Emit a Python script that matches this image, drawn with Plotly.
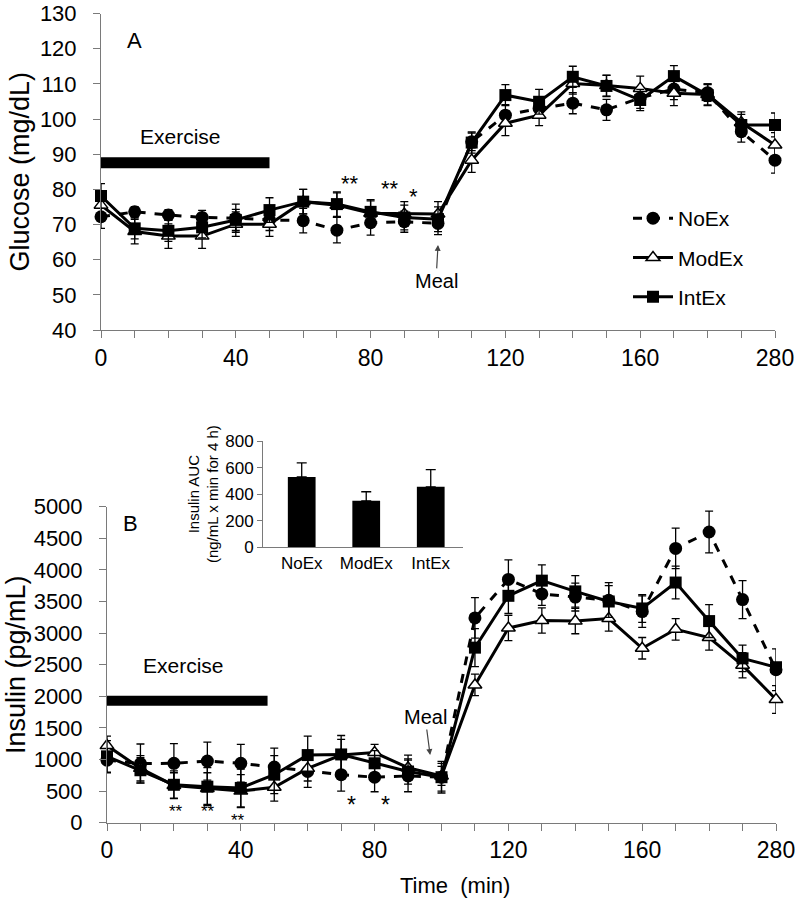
import plotly.graph_objects as go

# ---------------- data ----------------
times = ["0", "10", "20", "30", "40", "50", "60", "70", "80", "90", "100",
         "110", "120", "130", "140", "150", "160", "170", "180", "240", "280"]
tick_text = ["0", "", "", "", "40", "", "", "", "80", "", "", "", "120", "", "", "",
             "160", "", "", "", "280"]

glu_noex = [72.2, 73.6, 72.7, 72.0, 71.8, 71.3, 71.1, 68.4, 70.5, 70.8, 70.3,
            93.5, 101.1, 103.0, 104.5, 102.6, 106.0, 108.5, 107.5, 96.4, 88.3]
glu_noex_err = [3.3, 1.5, 1.5, 2.0, 4.0, 3.0, 3.5, 3.6, 3.5, 3.0, 3.2,
                2.5, 3.0, 2.5, 3.0, 3.0, 3.0, 3.0, 2.5, 3.0, 3.7]
glu_modex = [75.5, 68.0, 66.7, 66.7, 70.1, 70.1, 76.5, 75.5, 73.2, 73.0, 73.0,
             88.3, 98.8, 101.1, 110.1, 109.5, 108.7, 107.3, 107.0, 99.0, 92.6]
glu_modex_err = [4.0, 3.5, 3.5, 3.5, 3.5, 3.5, 3.5, 3.5, 3.5, 3.5, 3.5,
                 3.5, 3.5, 3.0, 3.0, 3.0, 3.5, 3.5, 3.0, 3.0, 3.5]
glu_intex = [78.1, 68.9, 68.2, 69.2, 71.3, 74.1, 76.5, 75.8, 73.6, 72.0, 71.5,
             93.3, 106.8, 104.9, 112.0, 109.4, 105.4, 112.2, 106.8, 98.3, 98.3]
glu_intex_err = [3.5, 3.0, 3.0, 3.0, 3.0, 3.5, 3.5, 3.5, 3.5, 3.5, 3.5,
                 3.0, 3.0, 3.5, 3.0, 3.0, 3.0, 3.0, 3.0, 3.0, 3.4]

ins_noex = [990, 935, 940, 975, 940, 880, 810, 760, 720, 740, 720,
            3240, 3850, 3620, 3570, 3520, 3340, 4340, 4600, 3530, 2420]
ins_noex_err = [200, 310, 310, 300, 300, 300, 250, 260, 230, 250, 250,
                320, 310, 180, 220, 280, 250, 320, 330, 300, 330]
ins_modex = [1220, 860, 590, 540, 500, 560, 860, 1070, 1110, 870, 740,
             2180, 3080, 3200, 3190, 3230, 2760, 3060, 2930, 2490, 1950]
ins_modex_err = [150, 200, 200, 250, 260, 220, 200, 250, 130, 200, 150,
                 170, 200, 200, 200, 200, 170, 170, 200, 200, 220]
ins_intex = [1050, 830, 600, 570, 550, 760, 1070, 1080, 940, 810, 720,
             2770, 3590, 3830, 3660, 3500, 3390, 3800, 3190, 2600, 2460]
ins_intex_err = [250, 200, 220, 300, 300, 300, 300, 300, 200, 200, 220,
                 300, 280, 250, 250, 250, 220, 260, 260, 210, 60]

auc_groups = ["NoEx", "ModEx", "IntEx"]
auc_values = [530, 350, 455]
auc_err = [105, 68, 130]

# ---------------- style ----------------
FONT = "Arial, 'Liberation Sans', sans-serif"
AX = "#7a7a7a"

series = [
    ("NoEx", dict(symbol="circle", size=13, color="black"), "dash"),
    ("ModEx", dict(symbol="triangle-up", size=12, color="white", line=dict(color="black", width=1.5)), "solid"),
    ("IntEx", dict(symbol="square", size=12, color="black"), "solid"),
]

fig = go.Figure()

glu = [(glu_noex, glu_noex_err), (glu_modex, glu_modex_err), (glu_intex, glu_intex_err)]
ins = [(ins_noex, ins_noex_err), (ins_modex, ins_modex_err), (ins_intex, ins_intex_err)]

for (name, mk, dash), (vals, err) in zip(series, glu):
    fig.add_trace(go.Scatter(
        x=times, y=vals, name=name, mode="lines+markers",
        line=dict(color="black", width=3, dash=dash),
        marker=mk, cliponaxis=False,
        error_y=dict(type="data", array=err, color="black", thickness=1.3, width=4),
        legendgroup=name, xaxis="x", yaxis="y"))

for (name, mk, dash), (vals, err) in zip(series, ins):
    fig.add_trace(go.Scatter(
        x=times, y=vals, name=name, mode="lines+markers", showlegend=False,
        line=dict(color="black", width=3, dash=dash),
        marker=mk, cliponaxis=False,
        error_y=dict(type="data", array=err, color="black", thickness=1.3, width=4),
        xaxis="x2", yaxis="y2"))

fig.add_trace(go.Bar(
    x=auc_groups, y=auc_values, width=0.43, marker=dict(color="black", line=dict(width=0)),
    error_y=dict(type="data", symmetric=False, array=auc_err,
                 arrayminus=[0, 0, 0], color="black", thickness=1.3, width=5),
    showlegend=False, xaxis="x3", yaxis="y3"))

xcommon = dict(type="category", range=[0, 20], tickvals=times, ticktext=tick_text,
               showline=True, linecolor=AX, linewidth=1, ticks="outside",
               ticklen=7, tickcolor=AX, showgrid=False, zeroline=False, automargin=False,
               tickfont=dict(size=23, color="black", family=FONT))
ycommon = dict(showline=True, linecolor=AX, linewidth=1, ticks="outside",
               ticklen=7, tickcolor=AX, showgrid=False, zeroline=False, automargin=False,
               tickfont=dict(size=22, color="black", family=FONT),
               ticklabelstandoff=12)

fig.update_layout(
    template="none",
    width=800, height=911, margin=dict(l=0, r=0, t=0, b=0, pad=0), autosize=False,
    paper_bgcolor="white", plot_bgcolor="white",
    font=dict(family=FONT, color="black"),
    xaxis=dict(domain=[101/800, 775/800], anchor="y", **xcommon),
    yaxis=dict(domain=[1-330/911, 1-13.5/911], anchor="x", range=[40, 130], dtick=10,
               title=dict(text="Glucose (mg/dL)", font=dict(size=27), standoff=2),
               **ycommon),
    xaxis2=dict(domain=[107/800, 776/800], anchor="y2", **xcommon),
    yaxis2=dict(domain=[1-822.7/911, 1-506.7/911], anchor="x2", range=[0, 5000], dtick=500,
                title=dict(text="Insulin (pg/mL)", font=dict(size=27), standoff=0),
                **ycommon),
    xaxis3=dict(domain=[263/800, 463/800], anchor="y3", type="category", range=[-0.6, 2.5],
                showline=True, linecolor=AX, ticks="", showgrid=False, automargin=False,
                tickfont=dict(size=17, color="black")),
    yaxis3=dict(domain=[1-547.3/911, 1-441/911], anchor="x3", range=[0, 800], dtick=200,
                showline=True, linecolor=AX, ticks="outside", ticklen=5, tickcolor=AX,
                showgrid=False, zeroline=False, automargin=False,
                tickfont=dict(size=17, color="black"),
                title=dict(text="Insulin AUC<br>(ng/mL x min for 4 h)", font=dict(size=15),
                           standoff=2)),
    legend=dict(x=628/800, y=1-198/911, xanchor="left", yanchor="top",
                bgcolor="rgba(0,0,0,0)", font=dict(size=21), tracegroupgap=9,
                itemwidth=40),
    showlegend=True,
)

# exercise bars
fig.add_shape(type="rect", xref="x", yref="y", x0=0, x1=5, y0=86.0, y1=89.1,
              fillcolor="black", line=dict(width=0))
fig.add_shape(type="rect", xref="x2", yref="y2", x0=0, x1=4.8, y0=1850, y1=2010,
              fillcolor="black", line=dict(width=0))

C = dict(xanchor="center", yanchor="middle")
ann = []
ann.append(dict(text="A", x=134/800, y=1-40/911, xref="paper", yref="paper",
                showarrow=False, font=dict(size=22), **C))
ann.append(dict(text="B", x=130/800, y=1-523/911, xref="paper", yref="paper",
                showarrow=False, font=dict(size=22), **C))
ann.append(dict(text="Exercise", x=180/800, y=1-137/911, xref="paper", yref="paper",
                showarrow=False, font=dict(size=21), **C))
ann.append(dict(text="Exercise", x=183/800, y=1-665/911, xref="paper", yref="paper",
                showarrow=False, font=dict(size=21), **C))
ann.append(dict(text="Meal", x=10, y=64.2, xref="x", yref="y", showarrow=True,
                ax=-2, ay=36, arrowhead=2, arrowsize=1, arrowwidth=1.2,
                font=dict(size=20)))
ann.append(dict(text="Meal", x=9.66, y=1071, xref="x2", yref="y2", showarrow=True,
                ax=-5, ay=-38, arrowhead=2, arrowsize=1, arrowwidth=1.2,
                font=dict(size=20)))
ann.append(dict(text="Time  (min)", x=455/800, y=1-885/911, xref="paper", yref="paper",
                showarrow=False, font=dict(size=22), **C))

stars = [("**", "x", "y", 7.4, 83.5, 22), ("**", "x", "y", 8.58, 81.8, 22),
         ("*", "x", "y", 9.26, 79.8, 22),
         ("**", "x2", "y2", 2.06, 233, 17), ("**", "x2", "y2", 3.02, 233, 17),
         ("**", "x2", "y2", 3.92, 106, 17), ("*", "x2", "y2", 7.32, 375, 23),
         ("*", "x2", "y2", 8.34, 375, 23)]
for t, xr, yr, xv, yv, fs in stars:
    ann.append(dict(text=t, x=xv, y=yv, xref=xr, yref=yr, showarrow=False,
                    font=dict(size=fs), yshift=-int(fs*0.28), **C))

fig.update_layout(annotations=ann)
fig.write_html("out.html", config={"displayModeBar": False},
               post_script="document.body.style.margin='0';document.body.style.overflow='hidden';")
